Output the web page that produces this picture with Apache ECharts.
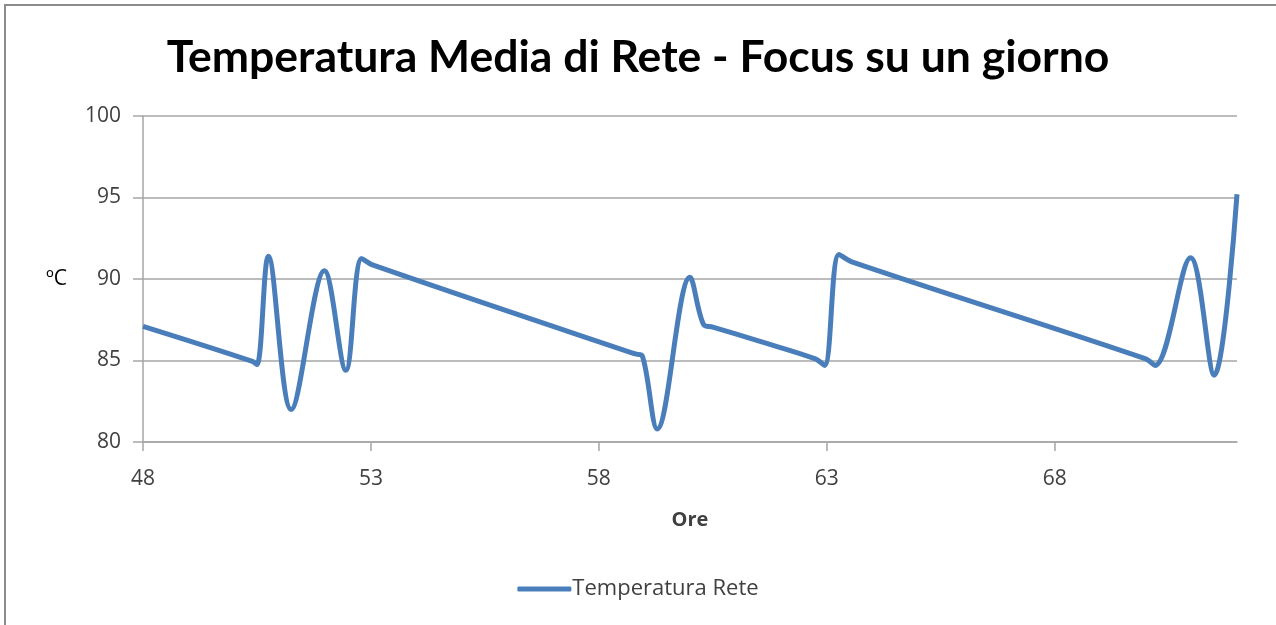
<!DOCTYPE html>
<html>
<head>
<meta charset="utf-8">
<script src="https://cdn.jsdelivr.net/npm/echarts@6/dist/echarts.min.js"></script>
<style>
  html, body { margin: 0; padding: 0; background: #fff; }
  #chart { width: 1276px; height: 625px; }
</style>
</head>
<body>
<div id="chart"></div>
<script>
// ore (x) e temperatura (y)
const ore = [48, 50.4, 50.5, 50.75, 51.25, 51.98, 52.45, 52.8, 53.05, 58.8, 58.95, 59.28, 60.0, 60.3, 60.5, 61.5, 62.75, 62.95, 63.27, 63.55, 70.0, 70.2, 70.98, 71.5, 72.0];
const temperatura = [87.1, 84.95, 84.75, 91.4, 82.0, 90.5, 84.4, 91.25, 90.85, 85.4, 85.3, 80.8, 90.1, 87.2, 87.05, 86.2, 85.1, 84.7, 91.5, 91.05, 85.1, 84.7, 91.3, 84.1, 95.2];

const font = 'Open Sans';
const gridColor = '#a6a6a6';

let chart = echarts.init(document.getElementById('chart'));
let option = {
    backgroundColor: '#fff',
    animation: false,
    title: {
        text: 'Temperatura Media di Rete - Focus su un giorno',
        left: 'center',
        top: 30,
        textStyle: { fontFamily: 'Lato', fontWeight: 'bold', fontSize: 44.5, color: '#000' }
    },
    legend: {
        bottom: 20,
        left: 'center',
        itemWidth: 54,
        itemHeight: 5,
        itemGap: 4,
        icon: 'roundRect',
        textStyle: { fontFamily: font, fontSize: 22, color: '#404040', padding: [0, 0, 0, -4] },
        data: ['Temperatura Rete']
    },
    grid: { left: 143, right: 39, top: 116, bottom: 183 },
    xAxis: {
        type: 'value',
        min: 48,
        max: 72,
        interval: 5,
        name: 'Ore',
        nameLocation: 'middle',
        nameGap: 68,
        nameTextStyle: { fontFamily: font, fontWeight: 'bold', fontSize: 20, color: '#404040' },
        axisLine: { show: true, lineStyle: { color: gridColor, width: 1.5 } },
        axisTick: { show: true, length: 9, lineStyle: { color: gridColor, width: 1.5 } },
        axisLabel: { fontFamily: font, fontSize: 21, color: '#404040', margin: 27, showMaxLabel: false },
        splitLine: { show: false }
    },
    yAxis: {
        type: 'value',
        min: 80,
        max: 100,
        interval: 5,
        name: 'ºC',
        nameLocation: 'middle',
        nameRotate: 0,
        nameGap: 76,
        nameTextStyle: { fontFamily: font, fontSize: 21, color: '#000' },
        axisLine: { show: true, lineStyle: { color: gridColor, width: 1.5 } },
        axisTick: { show: true, length: 10, lineStyle: { color: gridColor, width: 1.5 } },
        axisLabel: { fontFamily: font, fontSize: 21, color: '#404040', margin: 22 },
        splitLine: { show: true, lineStyle: { color: gridColor, width: 1.5 } }
    },
    graphic: [{
        type: 'polyline',
        shape: { points: [[5, 625], [5, 5], [1276, 5]] },
        style: { stroke: '#8c8c8c', lineWidth: 2, fill: null }
    }],
    series: [{
        name: 'Temperatura Rete',
        type: 'line',
        smooth: 0.35,
        showSymbol: false,
        symbol: 'none',
        lineStyle: { color: '#4a7ebb', width: 5 },
        itemStyle: { color: '#4a7ebb' },
        data: ore.map((o, i) => [o, temperatura[i]])
    }]
};
chart.setOption(option);
</script>
</body>
</html>
